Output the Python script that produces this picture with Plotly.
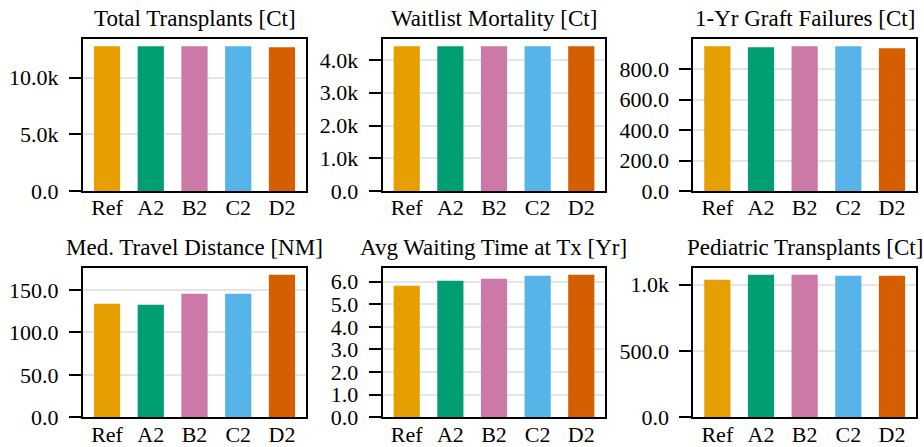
import plotly.graph_objects as go

# Scenario labels and bar colours (Okabe-Ito palette)
scenarios = ["Ref", "A2", "B2", "C2", "D2"]
colors = ["#E69F00", "#009E73", "#CC79A7", "#56B4E9", "#D55E00"]

# Metric titles and values per scenario
titles = [
    "Total Transplants [Ct]",
    "Waitlist Mortality [Ct]",
    "1-Yr Graft Failures [Ct]",
    "Med. Travel Distance [NM]",
    "Avg Waiting Time at Tx [Yr]",
    "Pediatric Transplants [Ct]",
]
total_transplants = [12760, 12760, 12760, 12760, 12680]
waitlist_mortality = [4420, 4420, 4420, 4420, 4420]
graft_failures = [950, 944, 950, 950, 937]
travel_distance = [133.6, 132.5, 145.4, 145.4, 167.8]
waiting_time = [5.82, 6.04, 6.13, 6.26, 6.30]
pediatric_transplants = [1037, 1075, 1075, 1068, 1068]

# Y tick positions per panel
ticks_total = [0, 5000, 10000]
ticks_mortality = [0, 1000, 2000, 3000, 4000]
ticks_graft = [0, 200, 400, 600, 800]
ticks_travel = [0, 50, 100, 150]
ticks_waiting = [0, 1, 2, 3, 4, 5, 6]
ticks_pediatric = [0, 500, 1000]

series = [total_transplants, waitlist_mortality, graft_failures,
          travel_distance, waiting_time, pediatric_transplants]
tick_sets = [ticks_total, ticks_mortality, ticks_graft,
             ticks_travel, ticks_waiting, ticks_pediatric]


def fmt(v):
    if abs(v) >= 1000:
        return f"{v / 1000:.1f}k"
    return f"{v:.1f}"


W, H = 924, 447
col_px = [(83, 306), (382.7, 605.3), (693.3, 916)]
row_px = [(39, 191), (267.7, 417.3)]

FONT = "Liberation Serif"
TICK_SIZE = 22
TITLE_SIZE = 23

fig = go.Figure()
layout = dict(
    width=W, height=H,
    margin=dict(l=0, r=0, t=0, b=0, autoexpand=False),
    paper_bgcolor="white", plot_bgcolor="white",
    font=dict(family=FONT, size=TICK_SIZE, color="black"),
    showlegend=False,
    annotations=[],
)

for i, (title, vals, tvals) in enumerate(zip(titles, series, tick_sets)):
    r, c = divmod(i, 3)
    n = i + 1
    xa = f"xaxis{n if n > 1 else ''}"
    ya = f"yaxis{n if n > 1 else ''}"
    x0, x1 = col_px[c]
    y0, y1 = row_px[r]
    xd = [x0 / W, x1 / W]
    yd = [1 - y1 / H, 1 - y0 / H]

    fig.add_trace(go.Bar(
        x=scenarios, y=vals, width=0.6,
        marker=dict(color=colors, line=dict(width=0)),
        xaxis=f"x{n}", yaxis=f"y{n}",
        hoverinfo="x+y",
    ))

    layout[xa] = dict(
        domain=xd, anchor=f"y{n}", range=[-0.55, 4.55],
        showline=True, linewidth=2, linecolor="black", mirror=True,
        ticks="", showgrid=False, zeroline=False, automargin=False,
        ticklabelstandoff=-4,
        tickfont=dict(family=FONT, size=TICK_SIZE, color="black"),
    )
    layout[ya] = dict(
        domain=yd, anchor=f"x{n}", range=[0, max(vals) * 1.05],
        showline=True, linewidth=2, linecolor="black", mirror=True,
        ticks="outside", ticklen=12, tickwidth=2, tickcolor="black",
        tickvals=tvals, ticktext=[fmt(v) for v in tvals],
        showgrid=True, gridcolor="#e5e5e5", gridwidth=1.5,
        zeroline=False, automargin=False, ticklabelstandoff=6,
        tickfont=dict(family=FONT, size=TICK_SIZE, color="black"),
    )
    layout["annotations"].append(dict(
        text=title, xref="paper", yref="paper",
        x=(xd[0] + xd[1]) / 2, y=yd[1],
        xanchor="center", yanchor="bottom", yshift=6,
        showarrow=False,
        font=dict(family=FONT, size=TITLE_SIZE, color="black"),
    ))

fig.update_layout(**layout)
fig.write_html("out.html")
